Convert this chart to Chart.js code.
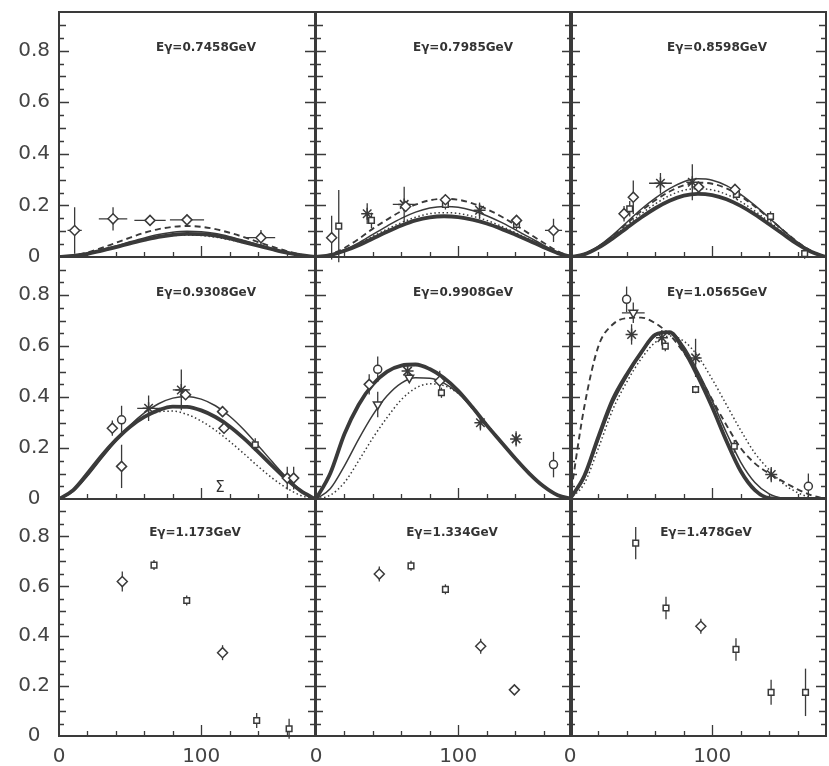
<!DOCTYPE html>
<html><head><meta charset="utf-8">
<script src="https://cdn.jsdelivr.net/npm/chart.js@4/dist/chart.umd.min.js"></script>
<style>
html,body{margin:0;padding:0;background:#fff;}
#wrap{position:relative;width:829px;height:766px;overflow:hidden;background:#fff;}
.cv{position:absolute;}
</style></head><body><div id="wrap"></div>
<script>
// ---------- tick labels ----------
const yTickVals = [0, 0.2, 0.4, 0.6, 0.8];
const xTickVals = [0, 100];
const titles = ["Eγ=0.7458GeV","Eγ=0.7985GeV","Eγ=0.8598GeV","Eγ=0.9308GeV","Eγ=0.9908GeV","Eγ=1.0565GeV","Eγ=1.173GeV","Eγ=1.334GeV","Eγ=1.478GeV"];
const curveX = [0,10,20,30,40,50,60,70,80,90,100,110,120,130,140,150,160,170,180];

// ---------- panel A: 0.7458 ----------
const aThick = [0,0.004,0.012,0.025,0.038,0.053,0.066,0.078,0.086,0.09,0.089,0.083,0.072,0.058,0.044,0.03,0.017,0.007,0];
const aThin  = [0,0.005,0.014,0.028,0.043,0.059,0.074,0.087,0.096,0.1,0.098,0.091,0.079,0.064,0.048,0.032,0.018,0.007,0];
const aDash  = [0,0.006,0.018,0.035,0.055,0.075,0.094,0.108,0.117,0.12,0.117,0.108,0.094,0.077,0.058,0.04,0.023,0.009,0];
const aDot   = [0,0.004,0.013,0.026,0.04,0.054,0.067,0.077,0.083,0.085,0.083,0.077,0.067,0.055,0.042,0.029,0.017,0.007,0];
const aDiaX = [11,38,64,90,142], aDiaY = [0.103,0.148,0.142,0.144,0.075], aDiaErr = [0.09,0.045,0.02,0.02,0.03], aDiaXErr = [5,10,11,12,10];

// ---------- panel B: 0.7985 ----------
const bThick = [0,0.007,0.024,0.046,0.072,0.098,0.122,0.142,0.154,0.158,0.155,0.145,0.13,0.11,0.087,0.063,0.038,0.015,0];
const bThin  = [0,0.008,0.028,0.055,0.088,0.12,0.15,0.174,0.19,0.196,0.193,0.18,0.16,0.135,0.106,0.076,0.046,0.018,0];
const bDash  = [0,0.01,0.035,0.07,0.11,0.145,0.178,0.203,0.22,0.226,0.222,0.208,0.186,0.158,0.125,0.09,0.055,0.022,0];
const bDot   = [0,0.007,0.026,0.05,0.08,0.108,0.133,0.154,0.168,0.172,0.169,0.158,0.142,0.12,0.095,0.068,0.041,0.016,0];
const bDiaX = [11,63,91,141,167], bDiaY = [0.075,0.196,0.222,0.142,0.103], bDiaErr = [0.085,0.02,0.02,0.02,0.045], bDiaXErr = [0,0,0,0,6];
const bSqX = [16,39,91,141], bSqY = [0.12,0.142,0.204,0.126], bSqErr = [0.14,0.03,0.02,0.02];
const bStarX = [36,62,115], bStarY = [0.168,0.204,0.181], bStarErr = [0.04,0.068,0.03], bStarXErr = [0,8,0];

// ---------- panel C: 0.8598 ----------
const cThick = [0,0.01,0.036,0.072,0.113,0.153,0.189,0.218,0.238,0.245,0.24,0.224,0.198,0.165,0.127,0.088,0.05,0.019,0];
const cThin  = [0,0.012,0.042,0.085,0.135,0.185,0.228,0.265,0.292,0.303,0.298,0.277,0.243,0.2,0.152,0.103,0.058,0.022,0];
const cDash  = [0,0.012,0.04,0.082,0.13,0.178,0.22,0.254,0.278,0.288,0.284,0.266,0.236,0.196,0.15,0.103,0.058,0.022,0];
const cDot   = [0,0.011,0.038,0.078,0.123,0.167,0.206,0.238,0.259,0.265,0.26,0.243,0.215,0.178,0.137,0.094,0.054,0.02,0];
const cDiaX = [38,44.5,90.5,116], cDiaY = [0.168,0.232,0.271,0.262], cDiaErr = [0.03,0.065,0.02,0.02];
const cSqX = [42,117,141,165], cSqY = [0.187,0.243,0.157,0.013], cSqErr = [0.03,0.02,0.02,0.02];
const cStarX = [63.6,86], cStarY = [0.286,0.29], cStarErr = [0.04,0.07], cStarXErr = [8,0];

// ---------- panel D: 0.9308 ----------
const dThick = [0,0.035,0.1,0.17,0.232,0.284,0.322,0.349,0.363,0.362,0.348,0.322,0.285,0.238,0.185,0.13,0.077,0.032,0];
const dThin  = [0,0.03,0.09,0.16,0.228,0.289,0.338,0.374,0.396,0.402,0.392,0.366,0.325,0.272,0.21,0.146,0.085,0.035,0];
const dDot   = [0,0.035,0.1,0.172,0.236,0.286,0.322,0.342,0.345,0.332,0.306,0.27,0.226,0.178,0.128,0.082,0.043,0.014,0];
const dDiaX = [37.5,44,89,115,116,160.5,165], dDiaY = [0.278,0.128,0.409,0.343,0.278,0.082,0.082], dDiaErr = [0.03,0.085,0.02,0.02,0.02,0.045,0.045];
const dCircX = [44], dCircY = [0.311], dCircErr = [0.055];
const dStarX = [63,86], dStarY = [0.356,0.428], dStarErr = [0.05,0.08], dStarXErr = [8,6];
const dSqX = [138], dSqY = [0.213], dSqErr = [0.025];

// ---------- panel E: 0.9908 ----------
const eThick = [0,0.1,0.255,0.37,0.45,0.5,0.524,0.528,0.51,0.475,0.425,0.36,0.29,0.225,0.16,0.1,0.05,0.015,0];
const eThin  = [0,0.04,0.13,0.235,0.33,0.405,0.455,0.476,0.474,0.455,0.415,0.355,0.29,0.222,0.158,0.1,0.05,0.015,0];
const eDot   = [0,0.015,0.065,0.15,0.24,0.32,0.39,0.435,0.452,0.445,0.415,0.36,0.295,0.228,0.163,0.103,0.052,0.016,0];
const eDiaX = [37.4,87], eDiaY = [0.45,0.463], eDiaErr = [0.04,0.04];
const eCircX = [43.4,167], eCircY = [0.509,0.135], eCircErr = [0.05,0.05];
const eTriX = [43.4,65.6], eTriY = [0.371,0.476], eTriErr = [0.05,0.02];
const eStarX = [64.4,115.6,140.7], eStarY = [0.502,0.299,0.236], eStarErr = [0.03,0.03,0.03];
const eSqX = [88.2], eSqY = [0.417], eSqErr = [0.02];

// ---------- panel F: 1.0565 ----------
const fThick = [0,0.09,0.245,0.39,0.49,0.575,0.645,0.655,0.585,0.48,0.36,0.228,0.11,0.035,0.003,0,0,0,0];
const fThin  = [0,0.08,0.23,0.375,0.48,0.57,0.64,0.655,0.6,0.5,0.385,0.26,0.145,0.065,0.02,0.003,0,0,0];
const fDash  = [0,0.36,0.6,0.685,0.71,0.712,0.69,0.645,0.575,0.49,0.39,0.29,0.2,0.14,0.1,0.068,0.038,0.014,0];
const fDot   = [0,0.06,0.2,0.35,0.46,0.55,0.615,0.64,0.62,0.56,0.47,0.37,0.27,0.18,0.115,0.06,0.025,0.005,0];
const fCircX = [39.8,167.6], fCircY = [0.784,0.05], fCircErr = [0.05,0.05];
const fTriX = [44.5], fTriY = [0.731], fTriErr = [0.04], fTriXErr = [8];
const fStarX = [43.3,64.6,88.3,141.5], fStarY = [0.646,0.633,0.554,0.096], fStarErr = [0.04,0.03,0.075,0.03];
const fSqX = [67,88.3,115.5], fSqY = [0.6,0.43,0.207], fSqErr = [0.02,0.015,0.025];

// ---------- panel G: 1.173 ----------
const gDiaX = [44.5,115], gDiaY = [0.619,0.334], gDiaErr = [0.04,0.03];
const gSqX = [66.8,89.8,139,161.8], gSqY = [0.685,0.543,0.062,0.029], gSqErr = [0.02,0.02,0.03,0.04];

// ---------- panel H: 1.334 ----------
const hDiaX = [44.5,115.8,139.5], hDiaY = [0.649,0.36,0.185], hDiaErr = [0.03,0.03,0.02];
const hSqX = [66.8,91], hSqY = [0.682,0.588], hSqErr = [0.02,0.02];

// ---------- panel I: 1.478 ----------
const iSqX = [46.2,67.5,116.7,141.4,165.6], iSqY = [0.773,0.513,0.347,0.175,0.175], iSqErr = [0.065,0.045,0.045,0.05,0.095];
const iDiaX = [92], iDiaY = [0.44], iDiaErr = [0.03];

// ---------- build ----------
const INK = '#3a3a3a';
function curve(arr, kind){
  const st = {
    thick:{w:3.8, dash:[]},
    thin:{w:1.5, dash:[]},
    dash:{w:1.9, dash:[6,4]},
    dot:{w:1.5, dash:[1.5,2.6]}
  }[kind];
  return {data: curveX.map((x,i)=>({x, y:arr[i]})), borderColor:INK, borderWidth:st.w, borderDash:st.dash,
    pointRadius:0, fill:false, cubicInterpolationMode:'monotone', order:2};
}
function pts(xs, ys, shape, err, xerr){
  const map = {dia:['rectRot',5,0], sq:['rect',4,0], star:['star',6,0], tri:['triangle',5,180], circ:['circle',4,0]};
  const m = map[shape];
  return {data: xs.map((x,i)=>({x, y:ys[i]})), showLine:false, pointStyle:m[0], pointRadius:m[1], pointRotation:m[2],
    pointBackgroundColor:'#fff', pointBorderColor:INK, pointBorderWidth:1.5, borderColor:INK,
    errY: err, errX: xerr, order:1};
}
const panels = [
  [curve(aThick,'thick'),curve(aThin,'thin'),curve(aDash,'dash'),curve(aDot,'dot'), pts(aDiaX,aDiaY,'dia',aDiaErr,aDiaXErr)],
  [curve(bThick,'thick'),curve(bThin,'thin'),curve(bDash,'dash'),curve(bDot,'dot'), pts(bDiaX,bDiaY,'dia',bDiaErr,bDiaXErr), pts(bSqX,bSqY,'sq',bSqErr), pts(bStarX,bStarY,'star',bStarErr,bStarXErr)],
  [curve(cThick,'thick'),curve(cThin,'thin'),curve(cDash,'dash'),curve(cDot,'dot'), pts(cDiaX,cDiaY,'dia',cDiaErr), pts(cSqX,cSqY,'sq',cSqErr), pts(cStarX,cStarY,'star',cStarErr,cStarXErr)],
  [curve(dThick,'thick'),curve(dThin,'thin'),curve(dDot,'dot'), pts(dDiaX,dDiaY,'dia',dDiaErr), pts(dCircX,dCircY,'circ',dCircErr), pts(dStarX,dStarY,'star',dStarErr,dStarXErr), pts(dSqX,dSqY,'sq',dSqErr)],
  [curve(eThick,'thick'),curve(eThin,'thin'),curve(eDot,'dot'), pts(eDiaX,eDiaY,'dia',eDiaErr), pts(eCircX,eCircY,'circ',eCircErr), pts(eTriX,eTriY,'tri',eTriErr), pts(eStarX,eStarY,'star',eStarErr), pts(eSqX,eSqY,'sq',eSqErr)],
  [curve(fThick,'thick'),curve(fThin,'thin'),curve(fDash,'dash'),curve(fDot,'dot'), pts(fCircX,fCircY,'circ',fCircErr), pts(fTriX,fTriY,'tri',fTriErr,fTriXErr), pts(fStarX,fStarY,'star',fStarErr), pts(fSqX,fSqY,'sq',fSqErr)],
  [pts(gDiaX,gDiaY,'dia',gDiaErr), pts(gSqX,gSqY,'sq',gSqErr)],
  [pts(hDiaX,hDiaY,'dia',hDiaErr), pts(hSqX,hSqY,'sq',hSqErr)],
  [pts(iSqX,iSqY,'sq',iSqErr), pts(iDiaX,iDiaY,'dia',iDiaErr)]
];

const framePlugin = {
  id:'frame',
  beforeDatasetsDraw(chart){
    const {ctx, scales:{x, y}} = chart;
    ctx.save();
    ctx.strokeStyle = INK; ctx.lineWidth = 1.3;
    chart.data.datasets.forEach(ds=>{
      if(!ds.errY) return;
      ds.data.forEach((p,i)=>{
        const px = x.getPixelForValue(p.x), py = y.getPixelForValue(p.y);
        const e = ds.errY[i] || 0, ex = ds.errX ? (ds.errX[i]||0) : 0;
        ctx.beginPath();
        if(e){ ctx.moveTo(px, y.getPixelForValue(p.y - e)); ctx.lineTo(px, y.getPixelForValue(p.y + e)); }
        if(ex){ ctx.moveTo(x.getPixelForValue(p.x - ex), py); ctx.lineTo(x.getPixelForValue(p.x + ex), py); }
        ctx.stroke();
      });
    });
    ctx.restore();
  },
  afterDraw(chart){
    const {ctx, chartArea:a, scales:{x, y}} = chart;
    const o = chart.options.plugins.frame;
    ctx.save();
    ctx.strokeStyle = INK;
    ctx.lineWidth = 1.3;
    ctx.beginPath();
    for(let k=1;k<=18;k++){
      const py = Math.round(y.getPixelForValue(k*0.05))+0.5;
      const len = k%4===0 ? 10 : (k%2===0 ? 7 : 5);
      ctx.moveTo(a.left, py); ctx.lineTo(a.left+len, py);
      ctx.moveTo(a.right, py); ctx.lineTo(a.right-len, py);
    }
    for(let k=1;k<=8;k++){
      const px = Math.round(x.getPixelForValue(k*20))+0.5;
      const len = k===5 ? 11 : 5;
      ctx.moveTo(px, a.bottom); ctx.lineTo(px, a.bottom-len);
    }
    ctx.stroke();
    ctx.lineWidth = 2;
    ctx.strokeRect(a.left, a.top, a.right-a.left, a.bottom-a.top);
    ctx.fillStyle = '#333';
    ctx.font = 'bold 12px "DejaVu Sans"';
    ctx.textAlign = 'center'; ctx.textBaseline = 'middle';
    ctx.fillText(o.title, a.left + o.tdx, a.top + o.tdy);
    if(o.extra){
      ctx.font = '15px "DejaVu Sans"';
      ctx.fillText(o.extra, a.left + 161, a.bottom - 11);
    }
    ctx.restore();
  }
};

const colL = [59, 316, 570], W = 256;
const rowT = [12, 257, 499], rowH = [245, 242, 237];
const wrap = document.getElementById('wrap');
panels.forEach((datasets, i)=>{
  const r = Math.floor(i/3), c = i%3;
  const showX = r===2, showY = c===0;
  const extraL = showY ? 59 : 22, padL = showY ? 0 : 22, padR = 22, padT = 12, padB = showX ? 0 : 14;
  const left = colL[c] - extraL, top = rowT[r] - padT;
  const width = extraL + W + padR, height = padT + rowH[r] + (showX ? 30 : padB);
  const div = document.createElement('div');
  div.className = 'cv';
  div.style.left = left+'px'; div.style.top = top+'px';
  div.style.width = width+'px'; div.style.height = height+'px';
  const cv = document.createElement('canvas');
  cv.width = width; cv.height = height;
  cv.style.width = width+'px'; cv.style.height = height+'px';
  div.appendChild(cv); wrap.appendChild(div);
  new Chart(cv, {
    type:'line',
    data:{datasets},
    options:{
      responsive:false, animation:false, devicePixelRatio:1,
      layout:{padding:{left:padL, right:padR, top:padT, bottom:padB}},
      scales:{
        x:{type:'linear', min:0, max:180, display: showX,
          grid:{display:false, drawTicks:false}, border:{display:false},
          afterBuildTicks: s => { s.ticks = xTickVals.map(v=>({value:v})); },
          afterFit: s => { if(showX){ s.height = 30; } else { s.height = 0; } s.paddingLeft = 0; s.paddingRight = 0; },
          ticks:{font:{family:'DejaVu Sans', size:20}, color:'#444', padding:9, maxRotation:0, autoSkip:false}
        },
        y:{type:'linear', min:0, max:0.95, display: showY,
          grid:{display:false, drawTicks:false}, border:{display:false},
          afterBuildTicks: s => { s.ticks = yTickVals.map(v=>({value:v})); },
          afterFit: s => { s.width = showY ? 59 : 0; s.paddingTop = 0; s.paddingBottom = 0; },
          ticks:{font:{family:'DejaVu Sans', size:20}, color:'#444', padding:9, crossAlign:'center',
            callback: v => v===0 ? '0' : v.toFixed(1)}
        }
      },
      plugins:{legend:{display:false}, tooltip:{enabled:false},
        frame:{title:titles[i], tdx: r===2 ? 136 : 147, tdy: r===2 ? 34 : 36, extra: i===3 ? 'Σ' : ''}}
    },
    plugins:[framePlugin]
  });
});
</script>
</body></html>
